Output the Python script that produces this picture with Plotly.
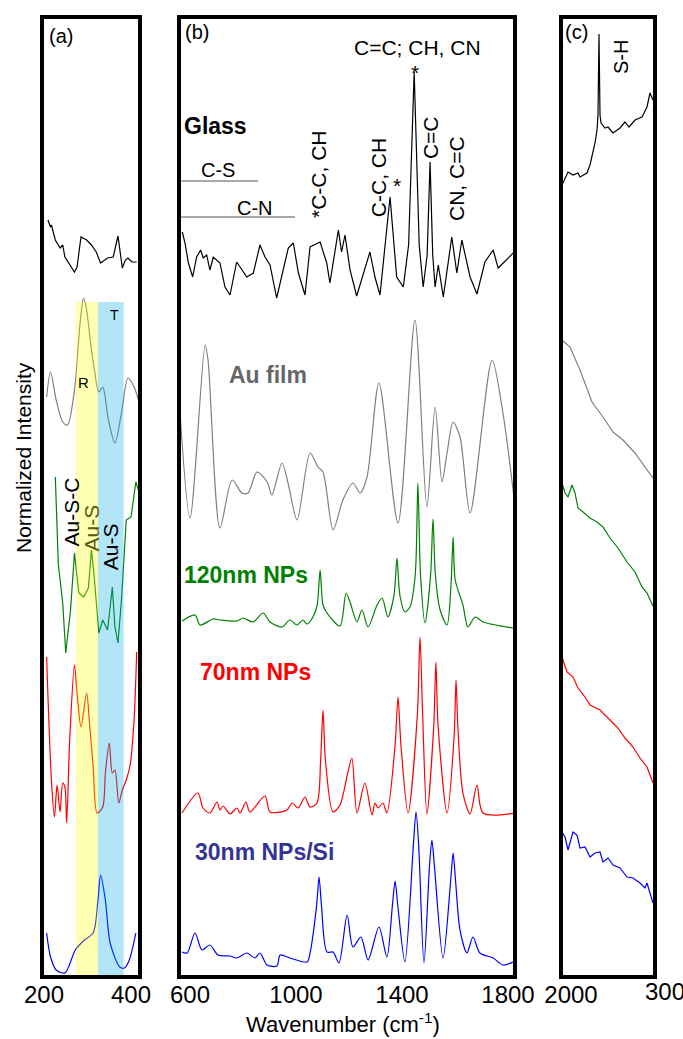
import plotly.graph_objects as go

# ---------------- data ----------------
# Panel (a): 200-420 cm-1 region
a_glass_x = [209, 215, 217, 226, 237, 243, 248, 259, 270, 276, 285, 298, 309, 320, 330, 346, 359, 370, 380, 387, 393, 402, 413]
a_glass_y = [755, 748, 750, 735, 727, 730, 718, 710, 703, 708, 738, 735, 730, 723, 712, 717, 718, 739, 707, 715, 717, 713, 713]

a_au_x = [206, 215, 228, 243, 254, 270, 283, 291, 298, 307, 315, 326, 335, 348, 363, 378, 393, 407, 417]
a_au_y = [578, 603, 575, 553, 550, 585, 652, 677, 665, 632, 608, 583, 588, 555, 532, 562, 597, 588, 575]

a_120_x = [226, 233, 237, 243, 250, 261, 270, 276, 280, 291, 302, 309, 315, 326, 335, 346, 357, 363, 370, 378, 389, 400, 411, 417]
a_120_y = [498, 410, 395, 372, 322, 365, 422, 397, 382, 378, 387, 425, 400, 342, 355, 345, 388, 348, 332, 375, 455, 458, 493, 485]

a_70_x = [206, 217, 224, 230, 237, 243, 248, 252, 259, 270, 276, 285, 298, 304, 313, 322, 335, 341, 350, 357, 363, 372, 380, 389, 398, 407, 413]
a_70_y = [318, 195, 158, 190, 163, 192, 188, 152, 235, 310, 282, 248, 282, 255, 208, 162, 168, 202, 232, 202, 205, 172, 185, 195, 210, 255, 323]

a_30_x = [206, 215, 228, 248, 272, 293, 313, 324, 330, 341, 352, 374, 385, 396, 411]
a_30_y = [42, 18, 5, 2, 25, 35, 42, 75, 100, 75, 32, 8, 7, 15, 42]

band_R = [273, 324]
band_T = [324, 383]
band_top = 673

# Panel (b): 600-1800 cm-1 region
b_glass_x = [571, 581, 594, 610, 625, 640, 650, 663, 675, 688, 713, 732, 751, 776, 789, 814, 839, 864, 883, 902, 927,
             971, 990, 1009, 1034, 1053, 1091, 1116, 1128, 1160, 1172, 1185, 1204, 1229, 1279, 1298, 1317, 1355, 1380,
             1405, 1425, 1446, 1465, 1480, 1495, 1506, 1516, 1525, 1537, 1556, 1588, 1607, 1626, 1657, 1683, 1713, 1744,
             1763, 1782, 1820]
b_glass_y = [743, 732, 712, 698, 718, 725, 717, 720, 705, 718, 712, 688, 680, 713, 708, 698, 702, 730, 718, 710, 677,
             727, 732, 702, 680, 728, 733, 712, 692, 745, 723, 740, 705, 679, 723, 698, 680, 778, 698,
             688, 730, 903, 730, 688, 720, 813, 720, 688, 710, 678, 738, 702, 735, 698, 681, 713, 725,
             707, 712, 722]

b_au_x = [555, 600, 657, 668, 713, 759, 796, 819, 853, 891, 909, 947, 970, 1004, 1053, 1083, 1102, 1140, 1177, 1215,
          1242, 1268, 1313, 1385, 1449, 1494, 1525, 1551, 1570, 1593, 1619, 1657, 1740, 1781, 1834]
b_au_y = [592, 457, 630, 615, 447, 495, 482, 482, 503, 493, 480, 512, 492, 455, 522, 508, 503, 445, 475, 492,
          482, 498, 592, 452, 655, 468, 568, 493, 522, 553, 538, 462, 615, 562, 452]

b_120_x = [570, 619, 638, 687, 713, 777, 800, 838, 876, 902, 947, 977, 1004, 1026, 1042, 1064, 1080, 1091, 1102, 1117,
           1166, 1189, 1204, 1230, 1249, 1272, 1306, 1325, 1347, 1370, 1381, 1392, 1411, 1430, 1450, 1460, 1470, 1487,
           1508, 1517, 1526, 1544, 1570, 1585, 1593, 1601, 1630, 1649, 1676, 1706, 1819]
b_120_y = [354, 360, 350, 356, 355, 354, 357, 353, 362, 353, 348, 355, 350, 355, 351, 358, 370, 405, 370, 362,
           349, 382, 373, 353, 365, 348, 370, 377, 358, 380, 417, 380, 363, 368, 400, 492, 400, 352,
           400, 456, 400, 365, 350, 390, 438, 395, 370, 348, 358, 353, 347]

b_70_x = [570, 630, 649, 675, 702, 713, 725, 751, 777, 789, 811, 826, 883, 902, 966, 985, 1008, 1034, 1053, 1079,
          1093, 1102, 1111, 1140, 1166, 1196, 1211, 1230, 1260, 1287, 1298, 1310, 1328, 1343, 1374, 1385, 1396, 1423,
          1458, 1468, 1478, 1494, 1520, 1528, 1536, 1570, 1597, 1604, 1611, 1630, 1657, 1683, 1706, 1830]
b_70_y = [162, 182, 167, 162, 173, 165, 169, 161, 167, 162, 173, 163, 179, 163, 165, 172, 167, 178, 168, 172,
          215, 265, 215, 163, 170, 203, 217, 162, 192, 160, 172, 167, 172, 162, 230, 278, 230, 162,
          260, 338, 260, 161, 250, 313, 250, 162, 240, 295, 248, 182, 161, 190, 162, 162]

b_30_x = [570, 589, 619, 645, 675, 706, 751, 777, 815, 845, 864, 891, 928, 940, 977, 1042, 1053, 1078, 1087, 1096,
          1117, 1140, 1162, 1193, 1215, 1245, 1272, 1313, 1343, 1364, 1374, 1384, 1411, 1443, 1453, 1463, 1483, 1504,
          1513, 1522, 1555, 1584, 1593, 1602, 1619, 1645, 1668, 1694, 1744, 1781, 1819]
b_30_y = [23, 22, 42, 25, 30, 20, 19, 17, 22, 17, 22, 10, 9, 20, 17, 13, 22, 70, 98, 70,
          23, 23, 12, 60, 28, 38, 15, 48, 18, 70, 94, 70, 13, 130, 163, 130, 12, 110,
          135, 110, 17, 95, 122, 95, 45, 22, 38, 22, 17, 10, 13]

# Panel (c): 2000-3000 cm-1 region
c_glass_x = [1910, 1970, 2020, 2070, 2090, 2160, 2190, 2240, 2260, 2270, 2280, 2290, 2300, 2340, 2370, 2420, 2490, 2540,
             2580, 2640, 2710, 2760, 2790, 2820]
c_glass_y = [790, 803, 800, 802, 798, 802, 810, 832, 845, 860, 941, 860, 852, 847, 848, 842, 847, 853,
             848, 855, 858, 868, 882, 875]

c_au_x = [1910, 1990, 2090, 2210, 2320, 2420, 2520, 2640, 2740, 2820]
c_au_y = [635, 628, 605, 573, 558, 543, 535, 522, 508, 497]

c_120_x = [1910, 1940, 1970, 2010, 2040, 2070, 2120, 2190, 2260, 2320, 2390, 2470, 2560, 2640, 2710, 2760, 2820]
c_120_y = [492, 482, 478, 490, 482, 467, 463, 457, 453, 448, 437, 427, 413, 403, 388, 382, 369]

c_70_x = [1910, 1960, 2020, 2070, 2140, 2190, 2290, 2370, 2460, 2540, 2620, 2690, 2760, 2820]
c_70_y = [318, 303, 298, 287, 278, 270, 265, 257, 248, 237, 228, 217, 208, 192]

c_30_x = [1910, 1940, 1970, 2020, 2060, 2090, 2140, 2190, 2240, 2290, 2320, 2370, 2420, 2490, 2560, 2620, 2690, 2740,
          2760, 2790, 2820]
c_30_y = [143, 138, 125, 143, 140, 127, 128, 118, 122, 123, 113, 117, 110, 107, 98, 97, 92, 87,
          92, 82, 72]

a_ticks = [200, 400]
b_ticks = [600, 1000, 1400, 1800]
c_ticks = [2000]

# ---------------- figure ----------------
W, H = 683, 1039
def fx(p):
    return p / W
def fy(p):
    return 1 - p / H

FONT = "Liberation Sans, Arial, sans-serif"
C_BLACK, C_GRAY, C_GREEN, C_RED, C_BLUE = "#000000", "#808080", "#008000", "#ff0000", "#0000ff"

fig = go.Figure()

def add(x, y, color, ax, shape="linear", w=1.2):
    fig.add_trace(go.Scatter(x=x, y=y, mode="lines", xaxis=ax[0], yaxis=ax[1],
                             line=dict(color=color, width=w, shape=shape, smoothing=0.8),
                             hoverinfo="skip", showlegend=False))

A = ("x", "y"); B = ("x2", "y2"); Cx = ("x3", "y3")
add(a_glass_x, a_glass_y, C_BLACK, A)
add(a_au_x, a_au_y, C_GRAY, A, "spline")
add(a_120_x, a_120_y, C_GREEN, A)
add(a_70_x, a_70_y, C_RED, A, "spline")
add(a_30_x, a_30_y, C_BLUE, A, "spline")

add(b_glass_x, b_glass_y, C_BLACK, B)
add(b_au_x, b_au_y, C_GRAY, B, "spline")
add(b_120_x, b_120_y, C_GREEN, B, "spline")
add(b_70_x, b_70_y, C_RED, B, "spline")
add(b_30_x, b_30_y, C_BLUE, B, "spline")

add(c_glass_x, c_glass_y, C_BLACK, Cx)
add(c_au_x, c_au_y, C_GRAY, Cx)
add(c_120_x, c_120_y, C_GREEN, Cx)
add(c_70_x, c_70_y, C_RED, Cx)
add(c_30_x, c_30_y, C_BLUE, Cx)

ydom = [fy(975), fy(19)]
def xax(dom, rng, ticks, lw=4):
    return dict(domain=dom, range=rng, tickvals=ticks, showline=True, linewidth=lw, linecolor="black",
                mirror=True, showgrid=False, zeroline=False, ticks="", automargin=False,
                ticklabelstandoff=-5,
                tickfont=dict(size=24, color="black", family=FONT))
def yax(anchor):
    return dict(domain=ydom, range=[0, 956], showline=True, linewidth=4, linecolor="black", mirror=True,
                showgrid=False, zeroline=False, showticklabels=False, ticks="", anchor=anchor, automargin=False)

fig.update_layout(
    template="none",
    width=W, height=H, margin=dict(l=0, r=0, t=0, b=0, pad=0), autosize=False,
    paper_bgcolor="white", plot_bgcolor="white", showlegend=False,
    font=dict(family=FONT, color="black"),
    xaxis=dict(xax([fx(44), fx(138)], [200, 416], a_ticks), anchor="y"),
    xaxis2=dict(xax([fx(181), fx(513)], [566, 1819], b_ticks), anchor="y2"),
    xaxis3=dict(xax([fx(563), fx(653)], [1920, 2820], c_ticks, lw=4), anchor="y3"),
    yaxis=yax("x"), yaxis2=yax("x2"), yaxis3=yax("x3"),
)

# shaded bands (semi-transparent, above traces)
fig.add_shape(type="rect", xref="x", yref="y", x0=band_R[0], x1=band_R[1], y0=0, y1=band_top,
              fillcolor="rgba(255,255,0,0.3)", line=dict(width=0), layer="above")
fig.add_shape(type="rect", xref="x", yref="y", x0=band_T[0], x1=band_T[1], y0=0, y1=band_top,
              fillcolor="rgba(0,170,230,0.3)", line=dict(width=0), layer="above")

# C-S / C-N reference lines
fig.add_shape(type="line", xref="x2", yref="y2", x0=566, x1=857, y0=794, y1=794, line=dict(color="#555555", width=1))
fig.add_shape(type="line", xref="x2", yref="y2", x0=566, x1=996, y0=758, y1=758, line=dict(color="#555555", width=1))

def ann(text, x, y, ax, size=20, color="black", angle=0, xanchor="center", bold=False):
    t = "<b>%s</b>" % text if bold else text
    fig.add_annotation(text=t, x=x, y=y, xref=ax[0], yref=ax[1], showarrow=False, textangle=angle,
                       xanchor=xanchor, yanchor="middle", font=dict(size=size, color=color, family=FONT))

# panel (a) texts
ann("(a)", 207, 939, A, size=20, xanchor="left")
ann("R", 291, 593, A, size=15)
ann("T", 363, 660, A, size=14)
ann("Au-S-C", 261, 463, A, size=21, angle=-90)
ann("Au-S", 309, 447, A, size=21, angle=-90, color="#5a5a14")
ann("Au-S", 352, 428, A, size=21, angle=-90)

# panel (b) texts
ann("(b)", 572, 943, B, size=20, xanchor="left")
ann("Glass", 570, 849, B, size=23, xanchor="left", bold=True)
ann("C-S", 706, 805, B, size=20)
ann("C-N", 845, 767, B, size=20)
ann("*C-C, CH", 1083, 801, B, size=21, angle=-90)
ann("C-C, CH", 1310, 797, B, size=21, angle=-90)
ann("*", 1381, 790, B, size=21)
ann("C=C; CH, CN", 1460, 928, B, size=21)
ann("*", 1449, 903, B, size=21)
ann("C=C", 1506, 837, B, size=21, angle=-90)
ann("CN, C=C", 1604, 796, B, size=21, angle=-90)
ann("Au film", 740, 600, B, size=23, xanchor="left", bold=True, color="#666666")
ann("120nm NPs", 570, 400, B, size=23, xanchor="left", bold=True, color="#008000")
ann("70nm NPs", 630, 303, B, size=23, xanchor="left", bold=True, color="#ff0000")
ann("30nm NPs/Si", 611, 123, B, size=23, xanchor="left", bold=True, color="#333399")

# panel (c) texts
ann("(c)", 1920, 943, Cx, size=20, xanchor="left")
ann("S-H", 2500, 918, Cx, size=20, angle=-90)

# tick label beyond the panel (c) range
fig.add_annotation(text="3000", x=fx(671), y=fy(991), xref="paper", yref="paper", showarrow=False,
                   xanchor="center", yanchor="middle", font=dict(size=24, color="black", family=FONT))

# axis titles
fig.add_annotation(text="Wavenumber (cm<sup>-1</sup>)", x=fx(343), y=fy(1023), xref="paper", yref="paper",
                   showarrow=False, xanchor="center", yanchor="middle", font=dict(size=22, color="black", family=FONT))
fig.add_annotation(text="Normalized Intensity", x=fx(24), y=fy(458), xref="paper", yref="paper",
                   showarrow=False, textangle=-90, xanchor="center", yanchor="middle",
                   font=dict(size=21, color="black", family=FONT))

fig.write_html("out.html")
